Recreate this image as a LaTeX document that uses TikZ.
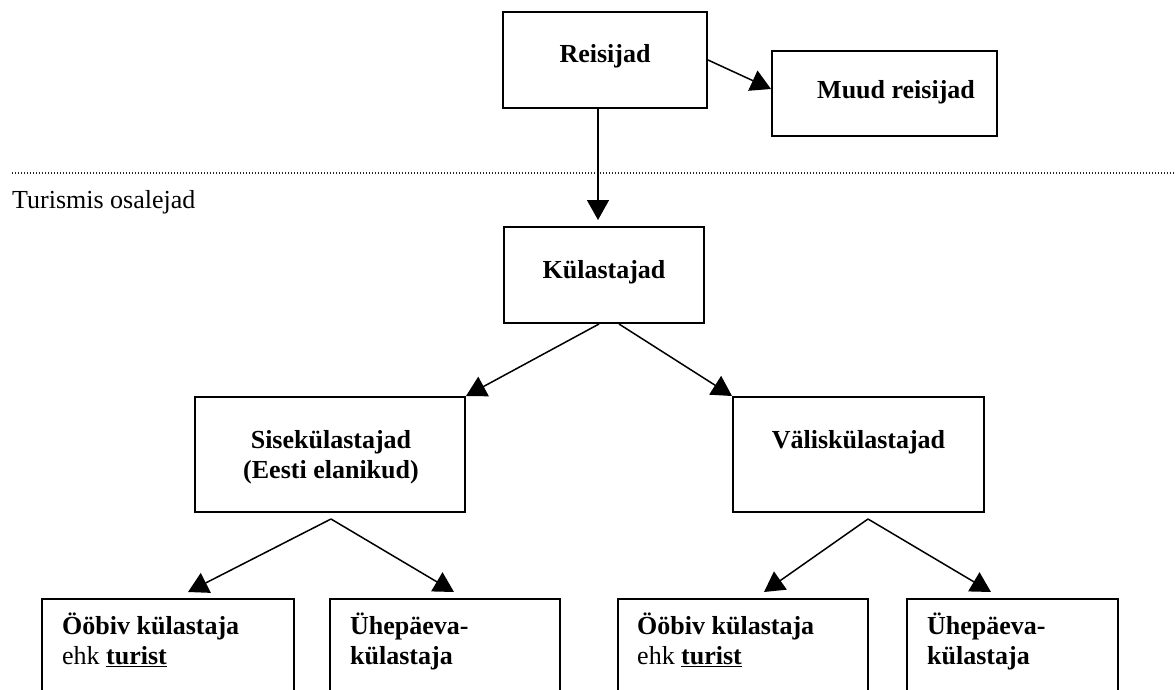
\documentclass[tikz,border=0pt]{standalone}
\usepackage{fontspec}
\setmainfont{Liberation Serif}
\usetikzlibrary{arrows.meta,calc}
\begin{document}
\begin{tikzpicture}[x=1pt,y=-1pt,
  box/.style={draw, line width=2pt, inner sep=0pt, anchor=north west},
  arr/.style={line width=1.5pt, -{Triangle[length=20pt,width=22pt]}},
  txt/.style={font=\fontsize{26}{30}\selectfont, inner sep=0pt},
  sep/.style={line width=1.2pt, black!85, dash pattern=on 1.2pt off 1.8pt},
]
\useasboundingbox (0,0) rectangle (1175,690);
\clip (0,0) rectangle (1175,690);

% boxes
\node[box, minimum width=204pt, minimum height=96pt] (reis) at (502,11) {};
\node[box, minimum width=225pt, minimum height=85pt] (muud) at (771,50) {};
\node[box, minimum width=200pt, minimum height=96pt] (kul) at (503,226) {};
\node[box, minimum width=270pt, minimum height=115pt] (sise) at (194,396) {};
\node[box, minimum width=251pt, minimum height=115pt] (val) at (732,396) {};
\node[box, minimum width=252pt, minimum height=130pt] (oob1) at (41,598) {};
\node[box, minimum width=230pt, minimum height=130pt] (uhe1) at (329,598) {};
\node[box, minimum width=250pt, minimum height=130pt] (oob2) at (617,598) {};
\node[box, minimum width=211pt, minimum height=130pt] (uhe2) at (906,598) {};

% texts
\node[txt, anchor=base] (treis) at ($(reis.center)+(0,3)$) {\textbf{Reisijad}};
\node[txt, anchor=base west] (tmuud) at ($(muud.west)+(46,5.5)$) {\textbf{Muud reisijad}};
\node[txt, anchor=base] (tkul) at ($(kul.center)+(0,3)$) {\textbf{Külastajad}};
\node[txt, anchor=base, align=center] (tsise) at ($(sise.north)+(1,82)$) {\textbf{Sisekülastajad}\\\textbf{(Eesti elanikud)}};
\node[txt, anchor=base] (tval) at ($(val.north)+(0,52)$) {\textbf{Väliskülastajad}};
\node[txt, anchor=base west, align=left] (toob1) at ($(oob1.north west)+(21,66)$) {\textbf{Ööbiv külastaja}\\ehk \underline{\textbf{turist}}};
\node[txt, anchor=base west, align=left] (tuhe1) at ($(uhe1.north west)+(21,66)$) {\textbf{Ühepäeva-}\\\textbf{külastaja}};
\node[txt, anchor=base west, align=left] (toob2) at ($(oob2.north west)+(20,66)$) {\textbf{Ööbiv külastaja}\\ehk \underline{\textbf{turist}}};
\node[txt, anchor=base west, align=left] (tuhe2) at ($(uhe2.north west)+(21,66)$) {\textbf{Ühepäeva-}\\\textbf{külastaja}};
\node[txt, anchor=base west] (tturism) at (12,208) {Turismis osalejad};

% separator
\coordinate (dl) at (12,173);
\coordinate (dr) at (1175,173);
\draw[sep] (dl) -- (dr);

% connectors
\draw[arr] ([xshift=-7pt]reis.south) -- ([xshift=-6pt,yshift=6pt]kul.north);
\draw[arr] (reis.east) -- ([yshift=4.5pt]muud.west);
\draw[arr] ([xshift=-5pt]kul.south) -- (sise.north east);
\draw[arr] ([xshift=15pt]kul.south) -- (val.north west);
\draw[arr] ([xshift=1pt,yshift=-6pt]sise.south) -- ([xshift=20pt,yshift=6pt]oob1.north);
\draw[arr] ([xshift=1pt,yshift=-6pt]sise.south) -- ([xshift=9pt,yshift=6pt]uhe1.north);
\draw[arr] ([xshift=9.5pt,yshift=-6pt]val.south) -- ([xshift=21pt,yshift=6pt]oob2.north);
\draw[arr] ([xshift=9.5pt,yshift=-6pt]val.south) -- ([xshift=-21.5pt,yshift=6pt]uhe2.north);
\end{tikzpicture}
\end{document}
